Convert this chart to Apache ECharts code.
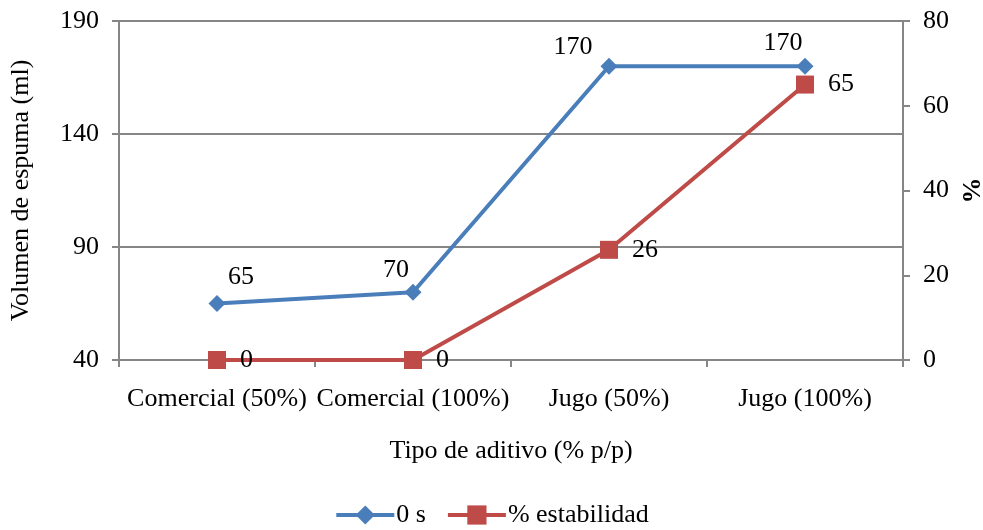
<!DOCTYPE html>
<html>
<head>
<meta charset="utf-8">
<script src="https://cdn.jsdelivr.net/npm/echarts@6/dist/echarts.min.js"></script>
<style>
  html, body { margin: 0; padding: 0; background: #fff; }
  #chart { width: 983px; height: 530px; }
</style>
</head>
<body>
<div id="chart"></div>
<script>
// Foam test: volume at 0 s and stability per additive type
const categories = ['Comercial (50%)', 'Comercial (100%)', 'Jugo (50%)', 'Jugo (100%)'];
const volume0s = [65, 70, 170, 170];
const stability = [0, 0, 26, 65];
const leftTicks = { min: 40, max: 190, interval: 50 };
const rightTicks = { min: 0, max: 80, interval: 20 };

// label placement for the volume series (pixel offsets from each marker)
const volumeLabelOffsets = [[24, -26], [-17, -22], [-36, -19], [-22, -23]];

const FONT = "'Liberation Serif', 'Times New Roman', serif";
const AXIS_GRAY = '#868686';
const BLUE = '#4A7EBB';
const RED = '#BE4B48';
const FS = 26;

const chart = echarts.init(document.getElementById('chart'));
chart.setOption({
  animation: false,
  textStyle: { fontFamily: FONT, color: '#000' },
  grid: { left: 119, right: 80, top: 21, bottom: 170, containLabel: false, outerBoundsMode: 'none' },
  legend: {
    bottom: -3,
    left: 'center',
    itemWidth: 58,
    itemHeight: 24,
    itemGap: 20,
    lineStyle: { width: 4 },
    textStyle: { fontFamily: FONT, fontSize: FS, color: '#000', padding: [0, 0, 0, -3] },
    data: ['0 s', '% estabilidad']
  },
  xAxis: {
    type: 'category',
    data: categories,
    boundaryGap: true,
    name: 'Tipo de aditivo (% p/p)',
    nameLocation: 'middle',
    nameGap: 78,
    nameTextStyle: { fontFamily: FONT, fontSize: FS, color: '#000' },
    axisLine: { lineStyle: { color: AXIS_GRAY, width: 2 } },
    axisTick: { show: true, length: 7, lineStyle: { color: AXIS_GRAY, width: 2 } },
    axisLabel: { fontFamily: FONT, fontSize: FS, color: '#000', margin: 26, interval: 0 }
  },
  yAxis: [
    {
      type: 'value',
      position: 'left',
      min: leftTicks.min, max: leftTicks.max, interval: leftTicks.interval,
      name: 'Volumen de espuma (ml)',
      nameLocation: 'middle',
      nameRotate: 90,
      nameGap: 85,
      nameTextStyle: { fontFamily: FONT, fontSize: FS, color: '#000' },
      axisLine: { show: true, lineStyle: { color: AXIS_GRAY, width: 2 } },
      axisTick: { show: true, length: 7, lineStyle: { color: AXIS_GRAY, width: 2 } },
      axisLabel: { fontFamily: FONT, fontSize: FS, color: '#000', margin: 20 },
      splitLine: { show: true, lineStyle: { color: AXIS_GRAY, width: 2 } }
    },
    {
      type: 'value',
      position: 'right',
      min: rightTicks.min, max: rightTicks.max, interval: rightTicks.interval,
      name: '%',
      nameLocation: 'middle',
      nameRotate: 90,
      nameGap: 55,
      nameTextStyle: { fontFamily: FONT, fontSize: FS, color: '#000', fontWeight: 'bold' },
      axisLine: { show: true, lineStyle: { color: AXIS_GRAY, width: 2 } },
      axisTick: { show: true, length: 7, lineStyle: { color: AXIS_GRAY, width: 2 } },
      axisLabel: { fontFamily: FONT, fontSize: FS, color: '#000', margin: 20 },
      splitLine: { show: false }
    }
  ],
  series: [
    {
      name: '0 s',
      type: 'line',
      yAxisIndex: 0,
      data: volume0s.map((v, i) => ({
        value: v,
        label: { offset: volumeLabelOffsets[i] }
      })),
      symbol: 'diamond',
      symbolSize: 17,
      showAllSymbol: true,
      lineStyle: { color: BLUE, width: 4 },
      itemStyle: { color: BLUE },
      label: {
        show: true,
        position: 'inside',
        fontFamily: FONT, fontSize: FS, color: '#000'
      },
      z: 3
    },
    {
      name: '% estabilidad',
      type: 'line',
      yAxisIndex: 1,
      data: stability,
      symbol: 'rect',
      symbolSize: 18,
      showAllSymbol: true,
      lineStyle: { color: RED, width: 4 },
      itemStyle: { color: RED },
      label: {
        show: true,
        position: 'right',
        distance: 14,
        fontFamily: FONT, fontSize: FS, color: '#000'
      },
      z: 4
    }
  ]
});
</script>
</body>
</html>
